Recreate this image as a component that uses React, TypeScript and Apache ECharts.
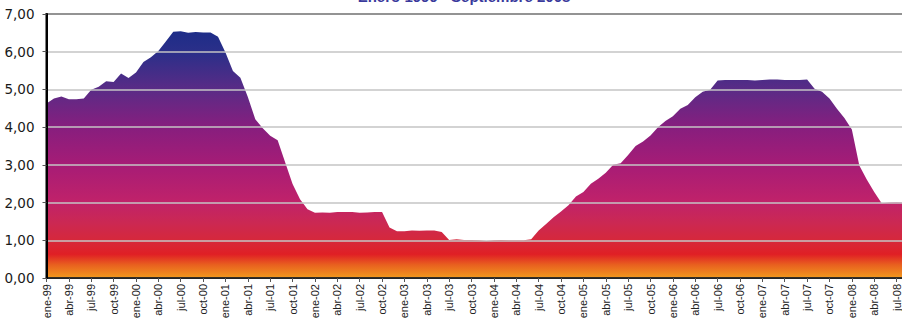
import React, { useEffect, useRef } from "react";
import * as echarts from "echarts";

// Monthly rate, January 1999 to September 2008
const MONTHS = ["ene", "feb", "mar", "abr", "may", "jun", "jul", "ago", "sep", "oct", "nov", "dic"];

const rates1999 = [4.63, 4.76, 4.81, 4.74, 4.74, 4.76, 4.99, 5.07, 5.22, 5.2, 5.42, 5.3];
const rates2000 = [5.45, 5.73, 5.85, 6.02, 6.27, 6.53, 6.54, 6.5, 6.52, 6.51, 6.51, 6.4];
const rates2001 = [5.98, 5.49, 5.31, 4.8, 4.21, 3.97, 3.77, 3.65, 3.07, 2.49, 2.09, 1.82];
const rates2002 = [1.73, 1.74, 1.73, 1.75, 1.75, 1.75, 1.73, 1.74, 1.75, 1.75, 1.34, 1.24];
const rates2003 = [1.24, 1.26, 1.25, 1.26, 1.26, 1.22, 1.01, 1.03, 1.01, 1.01, 1.0, 0.98];
const rates2004 = [1.0, 1.01, 1.0, 1.0, 1.0, 1.03, 1.26, 1.43, 1.61, 1.76, 1.93, 2.16];
const rates2005 = [2.28, 2.5, 2.63, 2.79, 3.0, 3.04, 3.26, 3.5, 3.62, 3.78, 4.0, 4.16];
const rates2006 = [4.29, 4.49, 4.59, 4.79, 4.94, 4.99, 5.24, 5.25, 5.25, 5.25, 5.25, 5.24];
const rates2007 = [5.25, 5.26, 5.26, 5.25, 5.25, 5.25, 5.26, 5.02, 4.94, 4.76, 4.49, 4.24];
const rates2008 = [3.94, 2.98, 2.61, 2.28, 1.98, 2.0, 2.01, 2.0, 1.81];

const yearlyRates: [string, number[]][] = [
  ["99", rates1999],
  ["00", rates2000],
  ["01", rates2001],
  ["02", rates2002],
  ["03", rates2003],
  ["04", rates2004],
  ["05", rates2005],
  ["06", rates2006],
  ["07", rates2007],
  ["08", rates2008],
];

const categories: string[] = [];
const values: number[] = [];
yearlyRates.forEach(([yy, arr]) => {
  arr.forEach((v, i) => {
    categories.push(`${MONTHS[i]}-${yy}`);
    values.push(v);
  });
});

const TITLE = "Enero 1999 - Septiembre 2008";

export default function App() {
  const ref = useRef<HTMLDivElement>(null);

  useEffect(() => {
    if (!ref.current) return;
    const chart = echarts.init(ref.current, null, { renderer: "svg" });

    const gridTop = 14;
    const gridBottomPx = 278;

    // Fill colour depends on height, shared across the whole plot
    const fill = new echarts.graphic.LinearGradient(
      0,
      gridTop,
      0,
      gridBottomPx,
      [
        { offset: 0.0, color: "#1b2a86" },
        { offset: 0.07, color: "#1e2d88" },
        { offset: 0.15, color: "#2c2f89" },
        { offset: 0.29, color: "#5b2b86" },
        { offset: 0.43, color: "#871e7e" },
        { offset: 0.57, color: "#a61c76" },
        { offset: 0.71, color: "#c0226a" },
        { offset: 0.79, color: "#cb2853" },
        { offset: 0.86, color: "#d6283a" },
        { offset: 0.91, color: "#e01f25" },
        { offset: 0.95, color: "#e8601f" },
        { offset: 1.0, color: "#f29a1e" },
      ],
      true
    );

    chart.setOption({
      animation: false,
      backgroundColor: "#ffffff",
      grid: {
        left: 46.5,
        top: gridTop,
        width: 865,
        height: gridBottomPx - gridTop,
        show: true,
        borderColor: "#000",
        borderWidth: 2,
        backgroundColor: "transparent",
      },
      graphic: [
        {
          type: "text",
          x: 464,
          y: 4,
          style: {
            text: TITLE,
            fill: "#3a3a9c",
            font: "bold 15px 'Liberation Sans', Arial, sans-serif",
            align: "center",
            verticalAlign: "bottom",
          },
        },
      ],
      xAxis: {
        type: "category",
        data: categories,
        boundaryGap: false,
        z: 5,
        axisLine: { show: true, lineStyle: { color: "#000", width: 1.5 } },
        axisTick: { show: true, interval: 2, length: 4, lineStyle: { color: "#555" } },
        axisLabel: {
          interval: 2,
          rotate: 90,
          margin: 6,
          fontSize: 11,
          fontFamily: "'Liberation Sans', Arial, sans-serif",
          color: "#222",
        },
        splitLine: { show: false },
      },
      yAxis: {
        type: "value",
        min: 0,
        max: 7,
        interval: 1,
        z: 5,
        axisLine: { show: true, lineStyle: { color: "#000", width: 2 } },
        axisTick: { show: true, length: 4, lineStyle: { color: "#555" } },
        axisLabel: {
          margin: 12,
          fontSize: 13.5,
          fontFamily: "'DejaVu Sans', sans-serif",
          color: "#1a1a1a",
          formatter: (v: number) => v.toFixed(2).replace(".", ","),
        },
        splitLine: { show: true, lineStyle: { color: "#c4c4c4", width: 1.5 } },
      },
      series: [
        {
          type: "line",
          data: values,
          showSymbol: false,
          symbol: "none",
          lineStyle: { width: 0 },
          areaStyle: { color: fill, opacity: 1 },
          z: 2,
        },
      ],
    });

    return () => chart.dispose();
  }, []);

  return (
    <div
      style={{
        position: "fixed",
        left: 0,
        top: 0,
        width: 902,
        height: 323,
        overflow: "hidden",
        background: "#fff",
      }}
    >
      <div ref={ref} style={{ width: 930, height: 323 }} />
    </div>
  );
}
